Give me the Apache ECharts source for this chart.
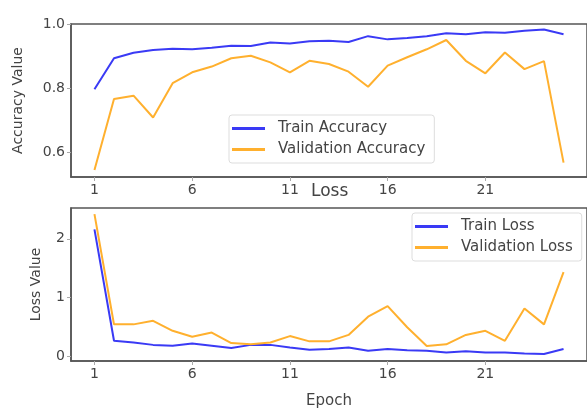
<!DOCTYPE html>
<html><head><meta charset="utf-8">
<script src="https://cdn.jsdelivr.net/npm/echarts@6/dist/echarts.min.js"></script>
<style>html,body{margin:0;padding:0;background:#fff}#c{width:587px;height:410px}</style>
</head><body><div id="c"></div>
<script>
const epochs = [1,2,3,4,5,6,7,8,9,10,11,12,13,14,15,16,17,18,19,20,21,22,23,24,25];
const trainAcc = [0.796,0.893,0.910,0.919,0.923,0.921,0.926,0.932,0.931,0.942,0.939,0.946,0.948,0.944,0.962,0.952,0.956,0.962,0.971,0.968,0.974,0.973,0.979,0.983,0.968];
const valAcc = [0.544,0.766,0.776,0.708,0.815,0.849,0.867,0.893,0.901,0.880,0.849,0.885,0.875,0.851,0.804,0.870,0.896,0.921,0.950,0.885,0.846,0.911,0.859,0.884,0.567];
const trainLoss = [2.16,0.26,0.23,0.19,0.175,0.215,0.175,0.135,0.19,0.19,0.147,0.107,0.12,0.147,0.09,0.12,0.10,0.09,0.06,0.08,0.06,0.06,0.045,0.035,0.12];
const valLoss = [2.42,0.54,0.54,0.60,0.43,0.33,0.40,0.22,0.20,0.23,0.34,0.25,0.25,0.36,0.67,0.85,0.49,0.17,0.20,0.36,0.43,0.26,0.81,0.54,1.43];
const xTicks = [1,6,11,16,21];
const accTicks = [0.6,0.8,1.0];
const lossTicks = [0,1,2];

const font = 'DejaVu Sans';
const txt = '#444';
const frame = '#555';
const tickC = '#aaa';
const pair = (ys) => epochs.map((e,i)=>[e, ys[i]]);
const xAxisBase = (gi) => ({
  type:'value', gridIndex:gi, min:-0.2, max:26.2,
  splitLine:{show:false},
  axisLine:{show:true, onZero:false, lineStyle:{color:frame, width:1.5}},
  axisTick:{show:true, length:4, lineStyle:{color:tickC}, customValues:xTicks},
  axisLabel:{color:txt, fontFamily:font, fontSize:14, margin:6, customValues:xTicks, formatter:v=>String(v)}
});
const yAxisBase = (gi, mn, mx, ticks, fmt, name, gap) => ({
  type:'value', gridIndex:gi, min:mn, max:mx, splitLine:{show:false},
  name:name, nameLocation:'middle', nameGap:gap, nameTextStyle:{fontFamily:font, fontSize:14, color:txt},
  axisLine:{show:true, onZero:false, lineStyle:{color:frame, width:1.5}},
  axisTick:{show:true, length:4, lineStyle:{color:tickC}, customValues:ticks},
  axisLabel:{color:txt, fontFamily:font, fontSize:14, margin:6, customValues:ticks, formatter:fmt}
});
const legendBase = (names, left, top) => ({
  data:names, orient:'vertical', left:left, top:top,
  icon:'rect', itemWidth:33, itemHeight:3, itemGap:6, padding:[6,9,6,3],
  borderColor:'#ddd', borderWidth:1, borderRadius:3, backgroundColor:'rgba(255,255,255,0.85)',
  textStyle:{fontFamily:font, fontSize:15, color:txt, padding:[0,0,0,8]}
});
const chart = echarts.init(document.getElementById('c'), null, {renderer:'canvas'});
chart.setOption({
  animation:false,
  backgroundColor:'#fff',
  title:[{text:'Loss', left:311, top:183, padding:0, textStyle:{fontFamily:font, fontSize:17, fontWeight:'normal', color:txt}}],
  grid:[
    {left:71, top:24, width:522, height:153, show:true, borderColor:frame, borderWidth:1.5},
    {left:71, top:208, width:522, height:154, show:true, borderColor:frame, borderWidth:1.5}
  ],
  xAxis:[
    xAxisBase(0),
    Object.assign(xAxisBase(1), {name:'Epoch', nameLocation:'middle', nameGap:33, nameTextStyle:{fontFamily:font, fontSize:15, color:txt}})
  ],
  yAxis:[
    yAxisBase(0, 0.522, 1.0, accTicks, v=>v.toFixed(1), 'Accuracy Value', 46),
    yAxisBase(1, -0.085, 2.525, lossTicks, v=>String(v), 'Loss Value', 28)
  ],
  legend:[
    legendBase(['Train Accuracy','Validation Accuracy'], 229, 115),
    legendBase(['Train Loss','Validation Loss'], 412, 213)
  ],
  series:[
    {name:'Train Accuracy', type:'line', xAxisIndex:0, yAxisIndex:0, data:pair(trainAcc), showSymbol:false, color:'#3a3af5', lineStyle:{width:2}},
    {name:'Validation Accuracy', type:'line', xAxisIndex:0, yAxisIndex:0, data:pair(valAcc), showSymbol:false, color:'#ffb02e', lineStyle:{width:2}},
    {name:'Train Loss', type:'line', xAxisIndex:1, yAxisIndex:1, data:pair(trainLoss), showSymbol:false, color:'#3a3af5', lineStyle:{width:2}},
    {name:'Validation Loss', type:'line', xAxisIndex:1, yAxisIndex:1, data:pair(valLoss), showSymbol:false, color:'#ffb02e', lineStyle:{width:2}}
  ]
});
</script></body></html>
